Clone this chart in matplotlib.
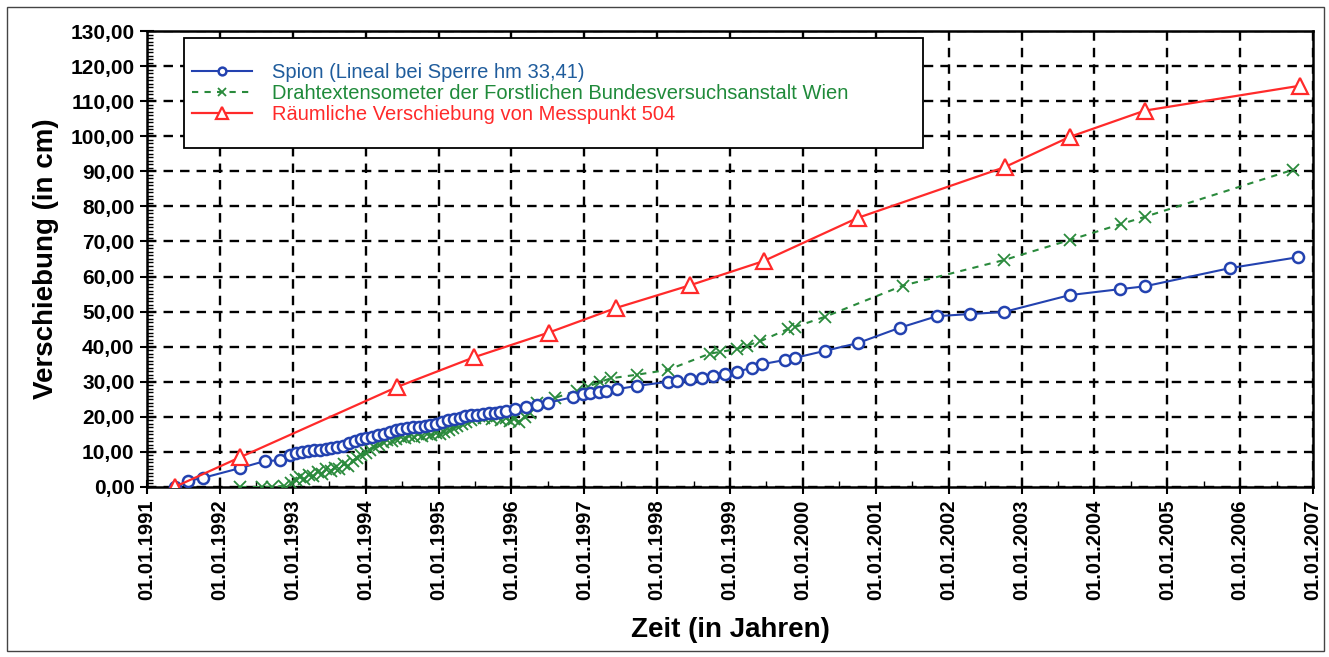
import matplotlib.pyplot as plt
from matplotlib.patches import Rectangle
from matplotlib.ticker import MultipleLocator, FuncFormatter

plt.rcParams['font.family'] = ['Liberation Sans', 'DejaVu Sans']

# decimal years, values in cm
spion_x = [1991.38, 1991.56, 1991.77, 1992.28, 1992.62, 1992.82, 1992.96, 1993.05, 1993.13,
           1993.21, 1993.29, 1993.37, 1993.45, 1993.53, 1993.61, 1993.69, 1993.77, 1993.85,
           1993.93, 1994.01, 1994.09, 1994.17, 1994.25, 1994.33, 1994.41, 1994.49, 1994.57,
           1994.65, 1994.73, 1994.81, 1994.89, 1994.97, 1995.05, 1995.13, 1995.21, 1995.29,
           1995.37, 1995.45, 1995.53, 1995.61, 1995.69, 1995.77, 1995.85, 1995.93, 1996.05,
           1996.2, 1996.35, 1996.5, 1996.84, 1996.98, 1997.08, 1997.2, 1997.3, 1997.45,
           1997.72, 1998.15, 1998.27, 1998.45, 1998.61, 1998.77, 1998.93, 1999.09, 1999.30,
           1999.44, 1999.75, 1999.89, 2000.30, 2000.75, 2001.33, 2001.84, 2002.29, 2002.76,
           2003.66, 2004.35, 2004.69, 2005.86, 2006.79]
spion_y = [0.0, 1.7, 2.6, 5.4, 7.4, 7.6, 9.0, 9.8, 10.0,
           10.2, 10.4, 10.6, 10.8, 11.0, 11.3, 11.7, 12.5, 13.2,
           13.6, 14.0, 14.3, 14.7, 15.2, 15.7, 16.1, 16.5, 16.8,
           17.0, 17.2, 17.4, 17.6, 18.0, 18.5, 19.0, 19.4, 19.8,
           20.1, 20.4, 20.6, 20.8, 21.0, 21.2, 21.4, 21.7, 22.1,
           22.8, 23.4, 24.0, 25.6, 26.4, 26.9, 27.2, 27.5, 27.9,
           28.8, 30.0, 30.3, 30.8, 31.1, 31.5, 32.3, 32.8, 34.0,
           35.0, 36.2, 36.8, 38.8, 41.0, 45.4, 48.7, 49.3, 49.9,
           54.7, 56.4, 57.2, 62.4, 65.5]

draht_x = [1992.28, 1992.58, 1992.72, 1992.88, 1992.98, 1993.04, 1993.10, 1993.16, 1993.22,
           1993.28, 1993.34, 1993.40, 1993.46, 1993.52, 1993.58, 1993.64, 1993.70, 1993.76,
           1993.82, 1993.88, 1993.94, 1994.00, 1994.06, 1994.12, 1994.18, 1994.24, 1994.30,
           1994.36, 1994.42, 1994.48, 1994.54, 1994.60, 1994.66, 1994.72, 1994.78, 1994.84,
           1994.90, 1994.96, 1995.02, 1995.08, 1995.14, 1995.20, 1995.26, 1995.32, 1995.38,
           1995.44, 1995.50, 1995.56, 1995.62, 1995.68, 1995.74, 1995.80, 1995.86, 1995.92,
           1995.98, 1996.04, 1996.10, 1996.18, 1996.26, 1996.35, 1996.60, 1996.90, 1997.05,
           1997.22, 1997.37, 1997.72, 1998.15, 1998.72, 1998.86, 1999.09, 1999.23, 1999.41,
           1999.79, 1999.89, 2000.30, 2001.37, 2002.76, 2003.66, 2004.37, 2004.69, 2006.72]
draht_y = [0.0, 0.0, 0.0, 0.3, 1.0, 2.0, 2.8, 2.2, 3.5,
           3.0, 4.2, 3.8, 5.0, 4.6, 5.5, 5.2, 6.5, 6.0,
           7.5, 8.2, 9.0, 9.8, 10.5, 11.4, 12.0, 12.8, 13.3,
           13.0, 13.8, 14.3, 14.0, 14.6, 14.2, 15.0, 14.5, 15.2,
           14.8, 15.3, 15.0, 15.8, 16.2, 16.8, 17.3, 18.0, 18.5,
           19.2, 19.6, 20.3, 19.8, 20.5, 19.5, 20.2, 19.0, 19.8,
           18.8, 19.5, 18.6, 20.0, 21.2, 23.8, 25.4, 27.5, 28.6,
           30.0, 31.0, 32.0, 33.4, 38.0, 38.5, 39.3, 40.3, 41.5,
           45.0, 45.6, 48.5, 57.4, 64.7, 70.4, 75.0, 77.0, 90.4]

mp504_x = [1991.38, 1992.28, 1994.43, 1995.49, 1996.51, 1997.43, 1998.45, 1999.46,
           2000.75, 2002.77, 2003.66, 2004.69, 2006.82]
mp504_y = [0.0, 8.5, 28.5, 37.0, 44.0, 51.0, 57.5, 64.4, 76.7, 91.2, 99.8, 107.3, 114.4]

years = list(range(1991, 2008))
labels = ["Spion (Lineal bei Sperre hm 33,41)",
          "Drahtextensometer der Forstlichen Bundesversuchsanstalt Wien",
          "Räumliche Verschiebung von Messpunkt 504"]
c_blue = "#2342b0"
c_green = "#2a8a3c"
c_red = "#ff2a2a"
text_colors = ["#1f5c9c", "#1f8a3a", "#ff2a2a"]

fig = plt.figure(figsize=(13.29, 6.57), dpi=100)
ax = fig.add_axes([0.1106, 0.2588, 0.8774, 0.694])

ax.plot(spion_x, spion_y, color=c_blue, lw=1.5, marker="o", ms=8, mfc="white",
        mec=c_blue, mew=1.8, label=labels[0], zorder=4)
ax.plot(draht_x, draht_y, color=c_green, lw=1.5, ls=(0, (3, 3)), marker="x", ms=9,
        mec=c_green, mew=1.3, label=labels[1], zorder=3)
ax.plot(mp504_x, mp504_y, color=c_red, lw=1.6, marker="^", ms=12, mfc="white",
        mec=c_red, mew=1.6, label=labels[2], zorder=5)

ax.set_xlim(1991, 2007)
ax.set_ylim(0, 130)
ax.set_xticks(years)
ax.set_xticklabels([f"01.01.{y}" for y in years], rotation=90, fontsize=14.5, fontweight="bold")
ax.yaxis.set_major_locator(MultipleLocator(10))
ax.yaxis.set_minor_locator(MultipleLocator(1))
ax.xaxis.set_minor_locator(MultipleLocator(0.5))
ax.yaxis.set_major_formatter(FuncFormatter(lambda v, p: f"{v:.2f}".replace(".", ",")))
for t in ax.get_yticklabels():
    t.set_fontsize(15)
    t.set_fontweight("bold")
ax.tick_params(which="major", direction="inout", length=10, width=1.5, color="black", pad=4)
ax.tick_params(which="minor", direction="in", length=4, width=1.0)
ax.grid(True, which="major", color="black", ls=(0, (4, 3)), lw=1.7)
ax.set_axisbelow(True)
for s in ax.spines.values():
    s.set_linewidth(1.8)

ax.set_ylabel("Verschiebung (in cm)", fontsize=20, fontweight="bold", labelpad=8)
ax.set_xlabel("Zeit (in Jahren)", fontsize=20, fontweight="bold", labelpad=12)

# legend box
box = Rectangle((0.0317, 0.743), 0.634, 0.2416, transform=ax.transAxes, facecolor="white",
                edgecolor="black", lw=1.3, zorder=6)
ax.add_patch(box)
leg = ax.legend(loc="upper left", bbox_to_anchor=(0.023, 0.970), frameon=False, fontsize=14.5,
                handlelength=3.0, handletextpad=1.0, labelspacing=0.1, markerscale=0.7)
leg.set_zorder(7)
for txt, c in zip(leg.get_texts(), text_colors):
    txt.set_color(c)

fig.add_artist(Rectangle((0.0053, 0.009), 0.991, 0.980, transform=fig.transFigure,
                         fill=False, edgecolor="#444444", lw=1.0))

fig.savefig("out.png", dpi=100)
